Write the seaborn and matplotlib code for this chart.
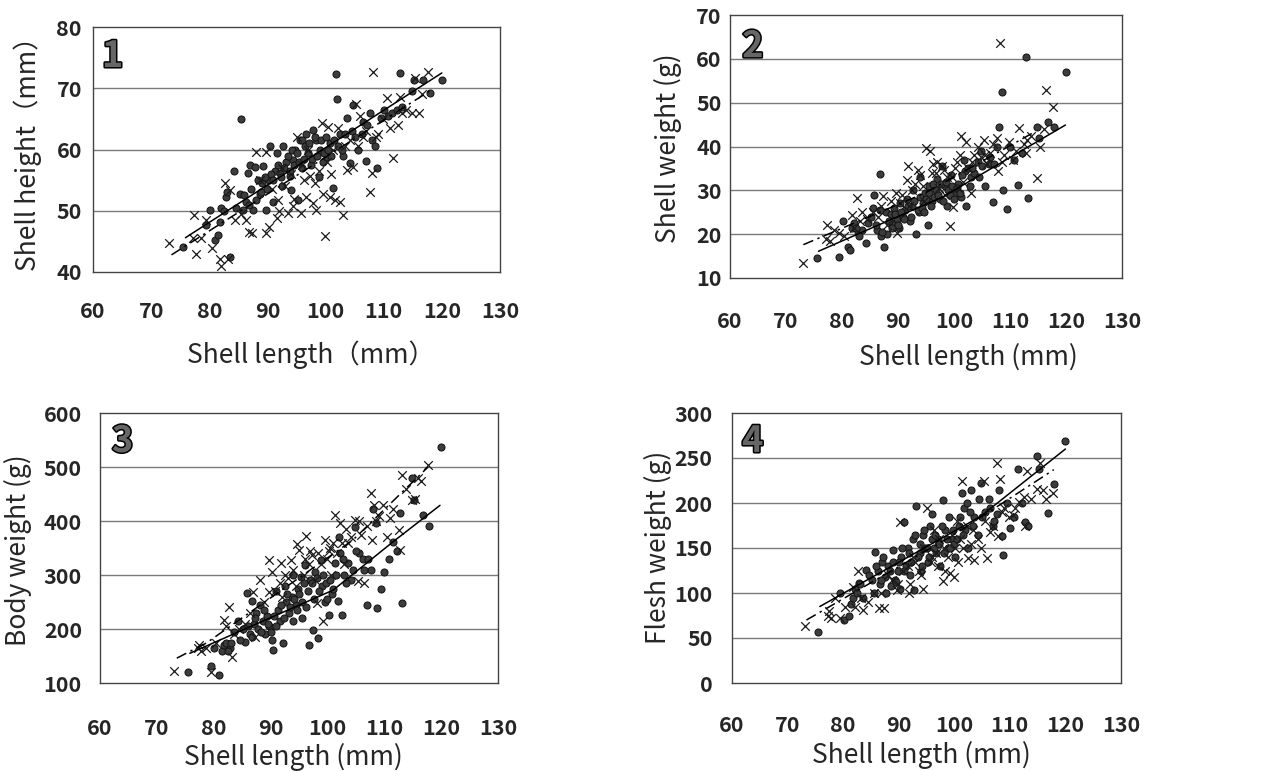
import matplotlib
matplotlib.use('Agg')
import matplotlib.pyplot as plt
import matplotlib.patheffects as pe
import numpy as np
import pandas as pd
import seaborn as sns

# длина раковины, группа "кружки"
circ_len = [75.5, 79.5, 80.1, 81.0, 81.5, 81.8, 82.1, 82.9, 83.5, 84.2,
            85.2, 85.5, 85.8, 86.3, 86.7, 87.0, 87.5, 87.8, 88.1, 88.7,
            89.0, 89.3, 89.8, 90.2, 90.4, 90.9, 91.3, 91.6, 92.1, 92.5,
            92.7, 93.2, 93.8, 94.0, 94.4, 94.8, 95.3, 95.6, 96.0, 96.7,
            97.0, 97.5, 97.9, 98.4, 98.8, 99.0, 99.5, 100.2, 100.8, 101.3,
            101.8, 102.0, 102.2, 102.5, 103.0, 103.6, 104.2, 104.8, 105.6, 106.2,
            106.9, 107.6, 108.0, 108.5, 108.8, 109.5, 110.0, 110.8, 111.5, 112.2,
            112.8, 113.2, 114.9, 115.2, 116.8, 117.9, 120.0,
            86.0, 86.8, 87.2, 88.4, 88.9, 89.5, 90.0, 90.6, 91.0, 91.8,
            92.3, 92.9, 93.5, 93.9, 94.2, 94.6, 95.0, 95.5, 95.9, 96.3,
            96.5, 97.2, 97.7, 98.1, 98.6, 99.2, 99.7, 100.0, 100.5, 101.0,
            101.5, 102.8, 103.3, 104.5, 105.0, 106.5, 107.2, 83.0, 84.6, 82.5]
circ_height = [44.1, 47.7, 50.2, 45.2, 46.0, 48.2, 50.4, 52.3, 42.5, 56.5,
               52.8, 65.0, 50.1, 51.5, 56.1, 57.4, 50.1, 57.2, 51.8, 52.8,
               54.5, 57.3, 50.1, 55.0, 60.6, 51.5, 56.5, 59.4, 56.1, 54.0,
               60.6, 58.0, 55.6, 53.4, 58.3, 60.0, 51.8, 61.6, 57.0, 62.6,
               59.5, 57.5, 63.2, 61.6, 55.5, 59.9, 58.0, 58.8, 61.0, 53.7,
               72.4, 68.2, 60.5, 62.6, 59.0, 65.1, 57.8, 67.3, 59.9, 62.5,
               58.1, 65.9, 61.5, 60.5, 57.0, 65.2, 66.4, 65.5, 66.0, 66.4,
               72.5, 67.0, 69.6, 71.3, 71.4, 69.3, 71.4,
               52.5, 51.0, 53.5, 55.0, 53.0, 55.5, 53.5, 56.0, 55.0, 57.5,
               55.5, 57.0, 59.0, 56.5, 60.0, 57.5, 59.5, 58.0, 61.5, 58.5,
               60.5, 61.0, 58.5, 62.0, 59.0, 61.5, 59.5, 62.0, 60.0, 59.0,
               61.5, 60.0, 62.5, 63.0, 62.0, 64.5, 64.0, 53.0, 50.5, 50.0]
circ_shell_w = [14.5, 14.8, 23.0, 17.0, 16.5, 21.5, 22.5, 20.5, 21.0, 18.0,
                24.0, 26.0, 29.0, 21.0, 33.8, 19.5, 17.0, 25.0, 20.0, 24.5,
                22.5, 26.0, 23.5, 21.5, 27.0, 24.0, 25.5, 28.0, 23.0, 26.5,
                30.0, 20.0, 25.0, 33.0, 27.0, 29.5, 22.0, 31.0, 27.5, 30.0,
                32.5, 28.0, 35.5, 31.0, 26.5, 30.0, 33.5, 29.5, 31.5, 28.5,
                37.0, 34.5, 26.5, 35.0, 33.0, 34.0, 36.5, 39.0, 31.0, 36.0,
                27.3, 40.0, 44.5, 52.5, 30.0, 25.8, 40.0, 37.0, 31.2, 38.5,
                60.5, 28.3, 44.5, 42.0, 45.5, 44.5, 57.0,
                22.0, 25.5, 20.5, 23.0, 21.5, 24.5, 22.0, 25.0, 23.5, 26.5,
                24.0, 27.5, 25.5, 28.5, 26.0, 25.0, 28.0, 29.5, 26.5, 31.5,
                28.5, 29.0, 31.5, 27.5, 32.0, 29.0, 31.0, 28.0, 30.5, 29.5,
                33.5, 31.0, 35.0, 33.0, 35.5, 37.5, 36.0, 19.5, 22.5, 21.5]
circ_body_w = [120, 131, 165, 115, 160, 170, 175, 165, 195, 214,
               200, 176, 266, 190, 251, 210, 230, 200, 245, 215,
               190, 225, 205, 180, 162, 270, 235, 215, 174, 280,
               250, 230, 260, 300, 245, 275, 297, 220, 319, 171,
               290, 199, 305, 183, 328, 280, 250, 226, 265, 322,
               251, 371, 340, 226, 300, 322, 290, 389, 340, 330,
               244, 309, 423, 396, 239, 275, 305, 329, 362, 345,
               414, 248, 479, 439, 411, 391, 537,
               205, 185, 220, 195, 235, 210, 195, 225, 205, 245,
               220, 265, 240, 215, 255, 235, 265, 250, 285, 240,
               270, 285, 255, 295, 270, 300, 285, 255, 290, 275,
               300, 330, 285, 310, 345, 310, 330, 175, 180, 160]
circ_flesh_w = [57, 100, 70, 74, 88, 95, 105, 111, 95, 126,
                115, 100, 146, 124, 110, 135, 118, 100, 130, 108,
                148, 115, 125, 105, 140, 179, 130, 150, 120, 160,
                103, 197, 145, 125, 165, 150, 135, 175, 188, 145,
                160, 130, 203, 170, 150, 185, 160, 140, 175, 211,
                195, 170, 200, 150, 214, 185, 165, 222, 190, 205,
                175, 188, 215, 163, 142, 200, 172, 185, 238, 200,
                179, 175, 252, 238, 189, 221, 269,
                130, 115, 140, 125, 135, 112, 135, 150, 125, 145,
                135, 165, 140, 155, 130, 170, 150, 140, 160, 150,
                165, 155, 175, 145, 160, 150, 170, 155, 160, 185,
                165, 190, 175, 205, 185, 195, 180, 110, 120, 100]

# длина раковины, группа "крестики"
cross_len = [73.1, 77.2, 77.4, 77.8, 78.6, 79.5, 80.4, 81.8, 82.1, 82.7,
             83.2, 83.5, 84.4, 86.4, 86.9, 87.3, 88.1, 89.7, 89.8, 90.3,
             91.6, 91.8, 92.5, 93.6, 94.4, 94.6, 95.0, 95.8, 96.3, 96.7,
             97.3, 97.9, 98.2, 98.4, 99.3, 99.6, 99.9, 100.5, 100.7, 101.3,
             101.6, 102.2, 102.5, 103.0, 103.6, 104.8, 105.3, 105.9, 106.5, 107.6,
             107.9, 108.2, 108.6, 110.5, 111.6, 112.5, 112.8, 113.1, 114.9, 115.4,
             116.5, 117.7,
             85.5, 88.8, 90.8, 92.0, 93.0, 94.0, 96.0, 97.0, 98.8, 100.2,
             101.0, 103.3, 104.2, 105.6, 106.9, 109.0, 109.8, 111.0, 113.8, 116.0]
cross_height = [44.7, 45.6, 49.3, 42.9, 45.6, 48.5, 43.9, 42.2, 40.9, 54.5,
                42.2, 53.4, 48.5, 48.5, 46.5, 46.3, 59.6, 59.6, 46.3, 47.4,
                48.8, 51.8, 57.0, 49.6, 50.7, 52.0, 62.1, 49.6, 55.0, 52.3,
                55.6, 51.2, 54.5, 50.1, 64.3, 52.8, 45.8, 63.7, 52.3, 59.9,
                51.8, 63.5, 51.5, 49.3, 56.6, 57.2, 67.5, 65.4, 62.1, 53.1,
                56.1, 72.7, 62.0, 68.4, 58.6, 64.0, 68.6, 65.9, 65.9, 71.6,
                69.0, 72.7,
                49.5, 55.0, 53.5, 50.0, 54.0, 56.0, 57.5, 60.0, 56.5, 58.0,
                56.0, 60.5, 61.5, 60.5, 63.0, 62.5, 65.0, 63.5, 66.5, 66.0]
cross_shell_w = [13.4, 19.0, 22.2, 18.5, 21.0, 20.3, 19.5, 24.4, 21.5, 28.2,
                 23.0, 25.0, 23.5, 24.0, 26.5, 28.6, 22.0, 29.4, 20.3, 27.0,
                 32.4, 35.5, 30.0, 34.7, 30.9, 27.5, 39.6, 38.9, 36.0, 33.9,
                 30.5, 35.5, 34.7, 29.0, 21.8, 33.0, 26.3, 36.5, 30.5, 42.3,
                 32.0, 41.1, 35.0, 29.5, 38.0, 37.7, 41.5, 36.0, 38.5, 41.9,
                 34.3, 63.7, 36.5, 37.0, 44.2, 40.5, 38.5, 41.5, 32.8, 40.0,
                 52.8, 49.1,
                 25.0, 27.5, 29.0, 26.5, 31.5, 33.5, 34.0, 36.5, 33.0, 35.0,
                 38.0, 36.5, 40.0, 38.0, 40.5, 38.0, 41.0, 39.0, 42.5, 44.0]
cross_body_w = [122, 165, 171, 160, 165, 120, 175, 217, 205, 241,
                149, 190, 200, 230, 269, 185, 291, 328, 269, 306,
                285, 322, 300, 328, 280, 358, 346, 300, 372, 320,
                337, 290, 248, 340, 214, 365, 330, 350, 300, 411,
                340, 396, 360, 320, 359, 402, 288, 375, 285, 451,
                365, 430, 400, 371, 423, 383, 346, 485, 439, 440,
                474, 503,
                210, 250, 270, 260, 295, 310, 330, 345, 320, 345,
                360, 385, 370, 400, 390, 410, 430, 405, 460, 480]
cross_flesh_w = [63, 75, 80, 72, 95, 72, 85, 107, 85, 124,
                 95, 81, 90, 83, 100, 83, 120, 103, 110, 179,
                 130, 100, 140, 125, 104, 150, 194, 135, 170, 145,
                 160, 113, 150, 125, 122, 165, 118, 180, 135, 224,
                 150, 175, 139, 155, 137, 150, 224, 139, 168, 244,
                 163, 227, 190, 187, 201, 207, 174, 236, 216, 245,
                 205, 211,
                 100, 115, 125, 110, 135, 120, 140, 130, 140, 150,
                 160, 170, 160, 180, 175, 195, 185, 195, 205, 215]

# линии регрессии (точки)
solid_x = [[75.9, 120.0], [75.8, 98.0, 119.9], [75.8, 101.0, 111.6, 119.8], [75.8, 104.7, 120.0]]
solid_y = [[45.6, 72.5], [16.1, 28.5, 44.9], [155, 272, 362, 429], [85, 185, 260]]
dash_x = [[73.5, 118.0], [73.1, 95.0, 114.5], [73.5, 78.7, 104.5, 117.7], [73.4, 100.0, 117.9]]
dash_y = [[42.8, 69.6], [17.6, 29.5, 43.4], [146, 174, 365, 500], [70, 165, 237]]

panel_nums = ['1', '2', '3', '4']
y_labels = ['Shell height\uff08mm\uff09', 'Shell weight (g)', 'Body weight (g)', 'Flesh weight (g)']
x_labels = ['Shell length\uff08mm\uff09', 'Shell length (mm)', 'Shell length (mm)', 'Shell length (mm)']
y_ranges = [(40, 80, 10), (10, 70, 10), (100, 600, 100), (0, 300, 50)]
x_ticks = [60, 70, 80, 90, 100, 110, 120, 130]

circ_vals = [circ_height, circ_shell_w, circ_body_w, circ_flesh_w]
cross_vals = [cross_height, cross_shell_w, cross_body_w, cross_flesh_w]

sns.set_style('white')
plt.rcParams['font.family'] = ['Noto Sans CJK JP', 'DejaVu Sans']

fig = plt.figure(figsize=(12.61, 7.71), dpi=100)

# положение осей в долях фигуры: left, bottom, width, height
boxes = [
    (93 / 1261, 1 - 272 / 771, 407 / 1261, 245 / 771),
    (730 / 1261, 1 - 278 / 771, 392 / 1261, 263 / 771),
    (100 / 1261, 1 - 683 / 771, 398 / 1261, 270 / 771),
    (732 / 1261, 1 - 683 / 771, 389 / 1261, 270 / 771),
]
xlab_pos = [(0.536, -0.339), (0.607, -0.300), (0.487, -0.274), (0.488, -0.267)]
ylab_pos = [(-0.160, 0.51), (-0.158, 0.494), (-0.206, 0.493), (-0.190, 0.504)]
xpad = [21, 24, 25, 23]
ypad = [8, 6, 13, 14]
num_pos = [(0.022, 0.955), (0.031, 0.95), (0.030, 0.963), (0.026, 0.963)]

for i in range(4):
    ax = fig.add_axes(boxes[i])
    df_c = pd.DataFrame({'length': circ_len, 'value': circ_vals[i]})
    df_x = pd.DataFrame({'length': cross_len, 'value': cross_vals[i]})

    # точки
    sns.scatterplot(data=df_c, x='length', y='value', ax=ax, marker='o', s=26,
                    color='#3c3c3c', edgecolor='#111111', linewidth=0.7, zorder=3)
    sns.scatterplot(data=df_x, x='length', y='value', ax=ax, marker='x', s=38,
                    color='#1a1a1a', linewidth=0.9, zorder=4)

    # линии
    ax.plot(solid_x[i], solid_y[i], color='black', lw=1.1, zorder=5)
    ax.plot(dash_x[i], dash_y[i], color='black', lw=1.1, linestyle=(0, (7, 3, 1.5, 3)), zorder=5)

    y0, y1, step = y_ranges[i]
    ax.set_xlim(60, 130)
    ax.set_ylim(y0, y1)
    ax.set_xticks(x_ticks)
    ax.set_yticks(np.arange(y0, y1 + step, step))
    for y in np.arange(y0 + step, y1, step):
        ax.axhline(y, color='#7a7a7a', lw=1.0, zorder=1)

    ax.tick_params(axis='x', direction='in', length=7, width=1.0, color='#333333',
                   pad=xpad[i], labelsize=15.5)
    ax.tick_params(axis='y', length=0, pad=ypad[i], labelsize=15.5)
    for lab in ax.get_xticklabels() + ax.get_yticklabels():
        lab.set_fontweight('bold')
    for sp in ax.spines.values():
        sp.set_color('#444444')
        sp.set_linewidth(1.0)

    ax.set_xlabel(x_labels[i], fontsize=19, va='center')
    ax.set_ylabel(y_labels[i], fontsize=19, va='center')
    ax.xaxis.set_label_coords(*xlab_pos[i])
    ax.yaxis.set_label_coords(*ylab_pos[i])

    # номер панели
    ax.text(num_pos[i][0], num_pos[i][1], panel_nums[i], transform=ax.transAxes,
            ha='left', va='top', fontsize=26, fontweight='bold', color='#666666',
            path_effects=[pe.withStroke(linewidth=2.2, foreground='black')], zorder=6)

fig.savefig('out.png', dpi=100)
